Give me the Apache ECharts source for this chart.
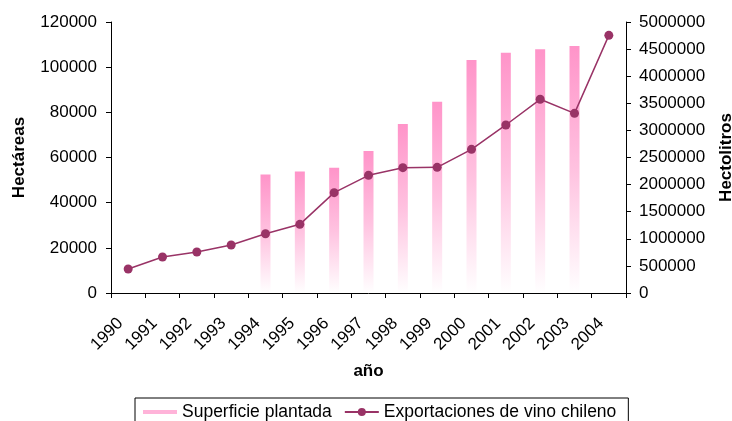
<!DOCTYPE html>
<html>
<head>
<meta charset="utf-8">
<script src="https://cdn.jsdelivr.net/npm/echarts@6/dist/echarts.min.js"></script>
<style>
  html, body { margin: 0; padding: 0; background: #fff; }
  #chart { width: 732px; height: 421px; }
</style>
</head>
<body>
<div id="chart"></div>
<script>
// superficie plantada (ha) y exportaciones (hl), 1990-2004
const years = ["1990", "1991", "1992", "1993", "1994", "1995", "1996", "1997",
  "1998", "1999", "2000", "2001", "2002", "2003", "2004"];
const superficie = [null, null, null, null, 52500, 53800, 55500, 62900,
  74800, 84700, 103200, 106400, 107900, 109400, null];
const exportaciones = [443000, 664000, 756000, 886000, 1094000, 1267000, 1851000, 2171000,
  2312000, 2318000, 2651000, 3100000, 3574000, 3315000, 4754000];

const chart = echarts.init(document.getElementById("chart"));
const font = "Liberation Sans, Arial, sans-serif";
const plain = (v) => String(v);

const option = {
  animation: false,
  textStyle: { fontFamily: font, color: "#000" },
  grid: { left: 111, right: 106, top: 22, bottom: 128, outerBoundsMode: "none", containLabel: false },
  legend: {
    left: 135,
    top: 398,
    padding: [5, 12, 8, 8],
    borderColor: "#000",
    borderWidth: 1,
    itemWidth: 34,
    itemHeight: 10,
    itemGap: 12,
    textStyle: { fontSize: 17.5, color: "#000", fontFamily: font },
    data: [
      { name: "Superficie plantada", icon: "path://M0,0H34V4H0Z", itemStyle: { color: "#ffb3d9" } },
      { name: "Exportaciones de vino chileno" },
    ],
  },
  xAxis: {
    type: "category",
    data: years,
    name: "año",
    nameLocation: "middle",
    nameGap: 70,
    nameTextStyle: { fontSize: 17, fontWeight: "bold", color: "#000" },
    axisLine: { lineStyle: { color: "#000", width: 1 } },
    axisTick: { show: true, length: 5, lineStyle: { color: "#000" } },
    axisLabel: { rotate: 45, fontSize: 17, color: "#000", margin: 20, padding: [0, 11, 0, 0], interval: 0 },
  },
  yAxis: [
    {
      type: "value",
      min: 0,
      max: 120000,
      interval: 20000,
      name: "Hectáreas",
      nameLocation: "middle",
      nameRotate: 90,
      nameGap: 83,
      nameTextStyle: { fontSize: 17, fontWeight: "bold", color: "#000" },
      axisLine: { show: true, lineStyle: { color: "#000" } },
      axisTick: { show: true, length: 5, lineStyle: { color: "#000" } },
      axisLabel: { fontSize: 17, color: "#000", margin: 14, formatter: plain },
      splitLine: { show: false },
    },
    {
      type: "value",
      min: 0,
      max: 5000000,
      interval: 500000,
      position: "right",
      name: "Hectolitros",
      nameLocation: "middle",
      nameRotate: 90,
      nameGap: 92,
      nameTextStyle: { fontSize: 17, fontWeight: "bold", color: "#000" },
      axisLine: { show: true, lineStyle: { color: "#000" } },
      axisTick: { show: true, length: 5, lineStyle: { color: "#000" } },
      axisLabel: { fontSize: 17, color: "#000", margin: 13, formatter: plain },
      splitLine: { show: false },
    },
  ],
  series: [
    {
      name: "Superficie plantada",
      type: "bar",
      yAxisIndex: 0,
      data: superficie,
      barWidth: 10,
      itemStyle: {
        color: new echarts.graphic.LinearGradient(0, 0, 0, 1, [
          { offset: 0, color: "#ff94c9" },
          { offset: 0.5, color: "#ffc2e0" },
          { offset: 1, color: "#ffffff" },
        ]),
      },
    },
    {
      name: "Exportaciones de vino chileno",
      type: "line",
      yAxisIndex: 1,
      data: exportaciones,
      symbol: "circle",
      symbolSize: 9,
      itemStyle: { color: "#993366" },
      lineStyle: { color: "#993366", width: 1.5 },
    },
  ],
};

chart.setOption(option);
window.addEventListener("resize", () => chart.resize());
</script>
</body>
</html>
